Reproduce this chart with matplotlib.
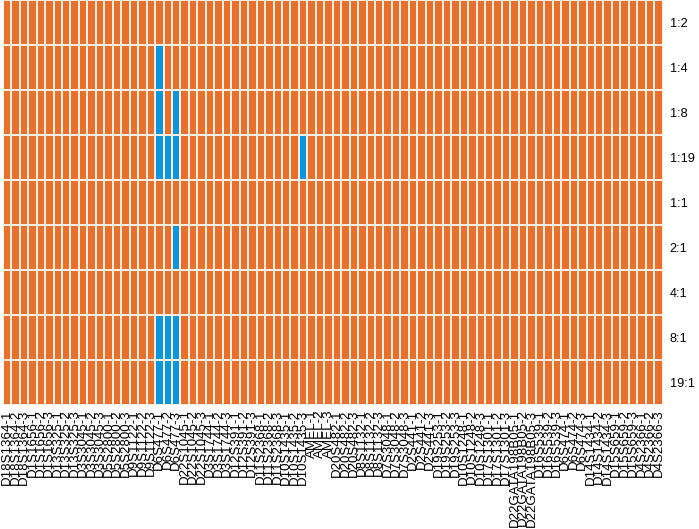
import matplotlib
matplotlib.use("Agg")
import matplotlib.pyplot as plt
import numpy as np
from matplotlib.colors import ListedColormap

markers = ["D18S1364", "D1S1656", "D13S325", "D3S3045", "D5S2800", "D9S1122",
           "D6S477", "D22S1045", "D3S1744", "D12S391", "D11S2368", "D10S1435",
           "AMEL", "D20S482", "D8S1132", "D7S3048", "D2S441", "D19S253",
           "D10S1248", "D17S1301", "D22GATA198B05", "D16S539", "D6S474",
           "D14S1434", "D15S659", "D4S2366"]
columns = [f"{m}-{k}" for m in markers for k in (1, 2, 3)]

ratios = ["1:2", "1:4", "1:8", "1:19", "1:1", "2:1", "4:1", "8:1", "19:1"]

# cells that are "blue" (state 1); all others are "orange" (state 0)
blue_cells = {
    "1:2": [],
    "1:4": ["D6S477-1"],
    "1:8": ["D6S477-1", "D6S477-3"],
    "1:19": ["D6S477-1", "D6S477-2", "D6S477-3", "D10S1435-3"],
    "1:1": [],
    "2:1": ["D6S477-3"],
    "4:1": [],
    "8:1": ["D6S477-1", "D6S477-2", "D6S477-3"],
    "19:1": ["D6S477-1", "D6S477-2", "D6S477-3"],
}

mat = np.zeros((len(ratios), len(columns)))
for i, r in enumerate(ratios):
    for c in blue_cells[r]:
        mat[i, columns.index(c)] = 1

fig = plt.figure(figsize=(6.99, 5.29), dpi=100)
ax = fig.add_axes([0.004, 0.234, 0.944, 0.766])
cmap = ListedColormap(["#E8702A", "#0A96DA"])
ax.pcolormesh(mat, cmap=cmap, vmin=0, vmax=1, edgecolors="#F8EEE6", linewidth=1.2)
ax.set_xlim(0, len(columns))
ax.set_ylim(len(ratios), 0)
for s in ax.spines.values():
    s.set_visible(False)
ax.set_xticks(np.arange(len(columns)) + 0.5)
ax.set_xticklabels(columns, rotation=90, fontsize=9.6, family="Liberation Sans")
ax.yaxis.tick_right()
ax.set_yticks(np.arange(len(ratios)) + 0.5)
ax.set_yticklabels(ratios, fontsize=9.2, family="Liberation Sans")
ax.tick_params(axis="x", length=0, pad=3)
ax.tick_params(axis="y", length=0, pad=5)
fig.savefig("out.png", dpi=100)
